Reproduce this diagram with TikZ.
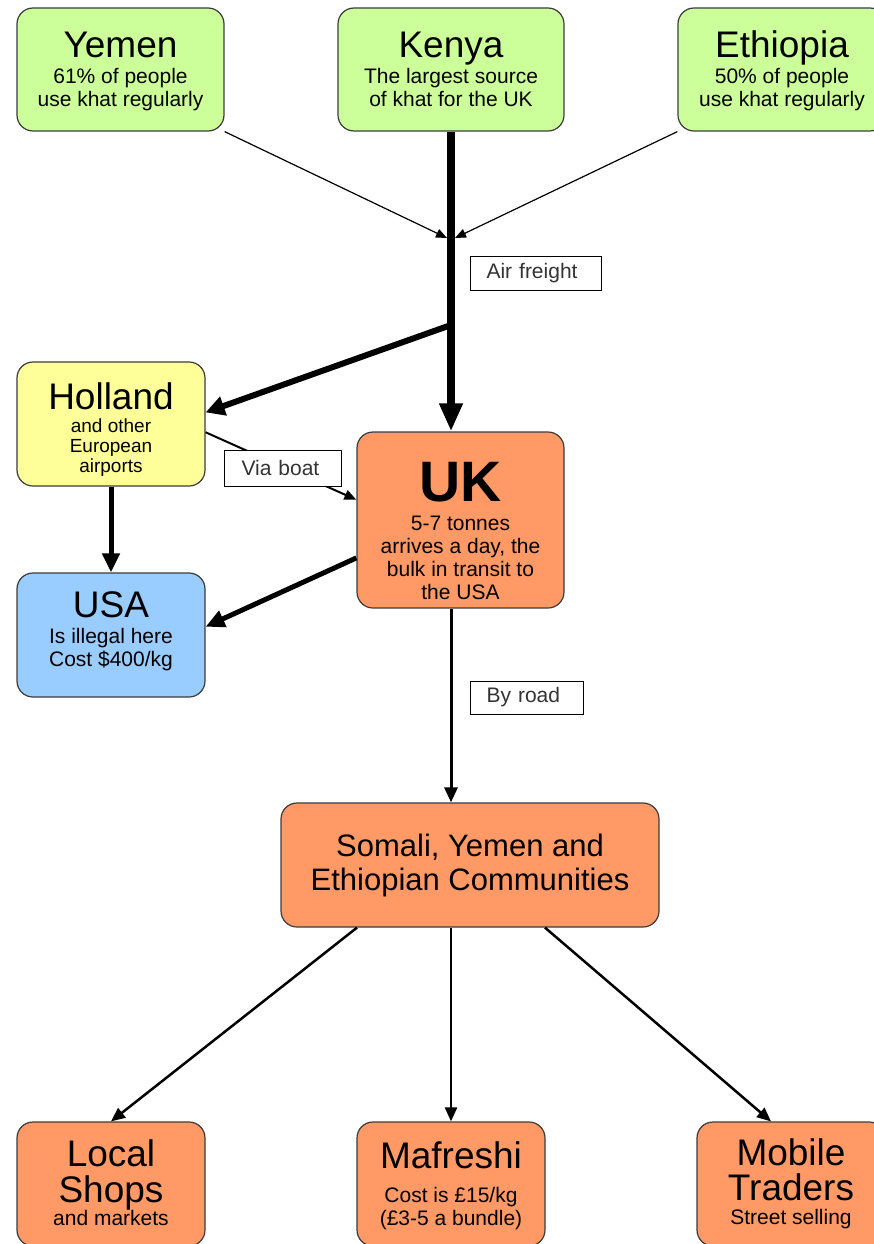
\documentclass[tikz,border=0pt]{standalone}
\usepackage{fontspec}
\setmainfont{Liberation Sans}
\usetikzlibrary{
  arrows.meta,
  calc,
}
\definecolor{srcgreen}{RGB}{204,255,153}
\definecolor{euyellow}{RGB}{255,255,153}
\definecolor{usblue}{RGB}{153,204,255}
\definecolor{ukorange}{RGB}{255,153,102}
\definecolor{boxline}{RGB}{60,60,60}
\newcommand\boxtitle[1]{{\fontsize{37}{40}\selectfont #1}}
\tikzset{
  flowbox/.style={
    rectangle, rounded corners=16pt, draw=boxline, line width=1.2pt,
    align=center, inner sep=0pt, font=\fontsize{21}{23}\selectfont
  },
  srcnode/.style={flowbox, fill=srcgreen, minimum height=123pt},
  eunode/.style={flowbox, fill=euyellow, minimum width=188pt, minimum height=124pt,
    font=\fontsize{19}{20}\selectfont},
  usnode/.style={flowbox, fill=usblue, minimum width=188pt, minimum height=124pt},
  uknode/.style={flowbox, fill=ukorange},
  shopnode/.style={uknode, minimum width=188pt, minimum height=124pt},
  tagbox/.style={
    rectangle, draw=black, fill=white, line width=1pt, anchor=west,
    font=\fontsize{21}{23}\selectfont, text=black!80, align=left,
    inner xsep=16pt, inner ysep=0pt, minimum height=34pt
  },
  heavyflow/.style={-{Triangle[length=28pt,width=22pt]}, line width=8pt},
  splitflow/.style={-{Triangle[length=19pt,width=19pt]}, line width=6pt},
  midflow/.style={-{Triangle[length=19pt,width=17pt]}, line width=5pt},
  roadflow/.style={-{Triangle[length=15pt,width=13pt]}, line width=3pt},
  shopflow/.style={-{Triangle[length=14pt,width=12pt]}, line width=2.5pt},
  boatflow/.style={-{Triangle[length=12pt,width=10pt]}, line width=2pt},
  thinflow/.style={-{Triangle[length=11pt,width=9pt]}, line width=1.2pt},
}

\begin{document}
\begin{tikzpicture}[x=1pt, y=-1pt]
  \useasboundingbox (0,0) rectangle (873,1244);

  % ── Source countries ──
  \node[srcnode, minimum width=207pt, text depth=1pt] (yemen) at (120.5,69.5)
    {\boxtitle{Yemen}\\[3pt] 61\% of people\\ use khat regularly};
  \node[srcnode, minimum width=226pt] (kenya) at (451,69.5)
    {\boxtitle{Kenya}\\[3pt] The largest source\\ of khat for the UK};
  \node[srcnode, minimum width=208pt, text depth=1pt] (ethiopia) at (782,69.5)
    {\boxtitle{Ethiopia}\\[3pt] 50\% of people\\ use khat regularly};

  % ── Transit countries ──
  \node[eunode, text depth=0pt] (holland) at (111,424)
    {\boxtitle{\rule{0pt}{33pt}Holland}\\[3pt] and other\\ European\\ airports};
  \node[uknode, minimum width=207pt, minimum height=176pt, text depth=0pt] (uk) at (460.5,520)
    {{\fontsize{57}{60}\selectfont\bfseries\rule{0pt}{60pt}UK}\\[6pt] 5-7 tonnes\\ arrives a day, the\\ bulk in transit to\\ the USA};
  \node[usnode, text depth=12pt] (usa) at (111,635)
    {\boxtitle{USA}\\[3pt] Is illegal here\\ Cost \$400/kg};

  % ── Communities and outlets ──
  \node[uknode, minimum width=378pt, minimum height=124pt, font=\fontsize{31}{34}\selectfont] (somali) at (470,865)
    {Somali, Yemen and\\ Ethiopian Communities};
  \node[shopnode, text depth=3pt] (local) at (111,1184)
    {\boxtitle{Local}\\[7pt] \boxtitle{Shops}\\ and markets};
  \node[shopnode, text depth=-2pt] (mafreshi) at (451,1184)
    {\boxtitle{Mafreshi}\\[11pt] Cost is £15/kg\\ (£3-5 a bundle)};
  \node[shopnode] (mobile) at (791,1184)
    {\boxtitle{Mobile}\\[7pt] \boxtitle{Traders}\\[1pt] Street selling};

  % ── Air freight into the UK ──
  \coordinate (airL)  at (447,238);
  \coordinate (airR)  at (455,238);
  \coordinate (split) at (451,325);
  \draw[thinflow] (yemen.south east) -- (airL);
  \draw[thinflow] (ethiopia.south west) -- (airR);
  \draw[heavyflow] (kenya.south) -- (kenya.south |- uk.north);
  \draw[splitflow] (split) -- (holland.7);
  \node[tagbox, text width=99pt] (air) at (470,273) {Air freight};

  % ── Onward routes ──
  \draw[boatflow] (holland.-5) -- (uk.169);
  \node[tagbox, text width=83pt, inner xsep=17pt, minimum height=36pt] (boat) at (224,468) {Via boat};
  \draw[midflow] (holland.south) -- (usa.north);
  \draw[midflow] (uk.200) -- (usa.5);
  \draw[roadflow] (kenya.south |- uk.south) -- (kenya.south |- somali.north);
  \node[tagbox, text width=81pt, minimum height=33pt] (road) at (470,697.5) {By road};

  % ── Distribution ──
  \draw[shopflow] ($(somali.south)+(-113,0)$) -- (local.north);
  \draw[shopflow] (mafreshi.north |- somali.south) -- (mafreshi.north);
  \draw[shopflow] ($(somali.south)+(75,0)$) -- ($(mobile.north)+(-20,0)$);

\end{tikzpicture}
\end{document}
